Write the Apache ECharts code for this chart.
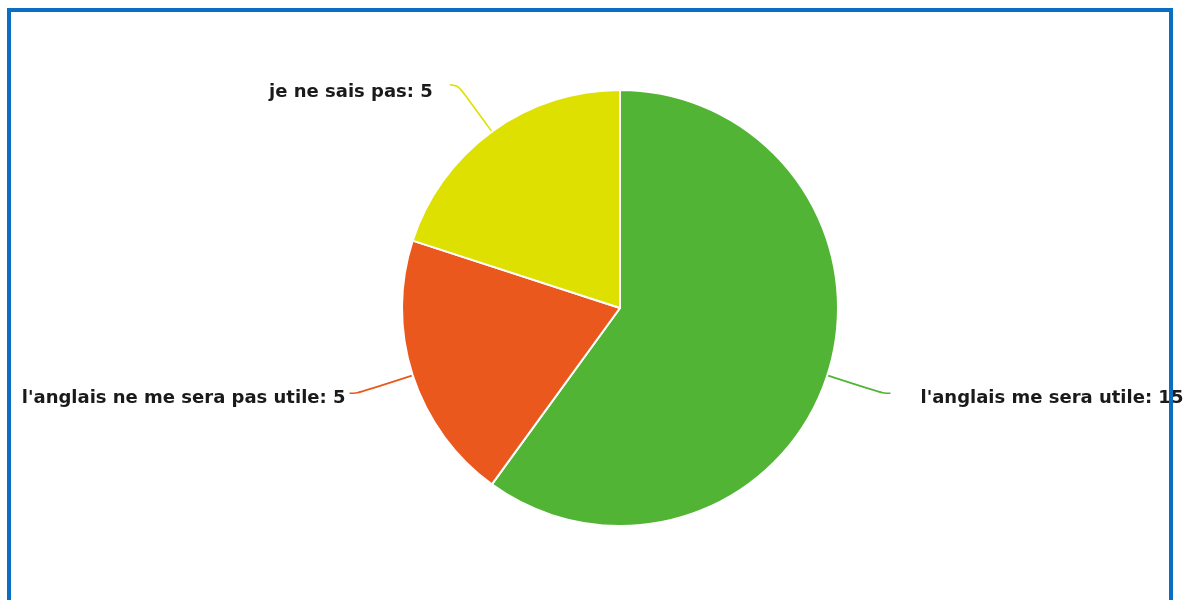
<!DOCTYPE html>
<html><head><meta charset="utf-8">
<script src="https://cdn.jsdelivr.net/npm/echarts@6/dist/echarts.min.js"></script>
<style>
html,body{margin:0;padding:0;background:#fff;}
#wrap{position:relative;width:1189px;height:600px;overflow:hidden;}
#chart{position:absolute;left:0;top:0;width:1189px;height:600px;}
#frame{position:absolute;left:7px;top:8px;width:1158px;height:620px;border:4px solid #0A6FC2;pointer-events:none;z-index:5;}
</style></head>
<body><div id="wrap"><div id="chart"></div><div id="frame"></div></div>
<script>
const categories = ["l'anglais me sera utile", "l'anglais ne me sera pas utile", "je ne sais pas"];
const values = [15, 5, 5];
const colors = ['#52B434', '#EB581D', '#DDE000'];
const labelShift = [[25, 5], [1, 5], [-12, 8]];

const chart = echarts.init(document.getElementById('chart'));
chart.setOption({
  animation: false,
  series: [{
    type: 'pie',
    center: [620, 308],
    radius: 218,
    startAngle: 90,
    clockwise: true,
    data: categories.map((c, i) => ({
      name: c, value: values[i],
      itemStyle: {color: colors[i]}
    })),
    itemStyle: {borderColor: '#fff', borderWidth: 2},
    label: {
      show: true,
      overflow: 'none',
      formatter: '{b}: {c}',
      fontFamily: 'DejaVu Sans, sans-serif',
      fontWeight: 'bold',
      fontSize: 18,
      color: '#1a1a1a'
    },
    labelLayout: function (p) {
      const s = labelShift[p.dataIndex];
      return {dx: s[0], dy: s[1]};
    },
    labelLine: {show: true, length: 58, length2: 8, smooth: 0.5, lineStyle: {width: 1.6}}
  }]
});
</script></body></html>
